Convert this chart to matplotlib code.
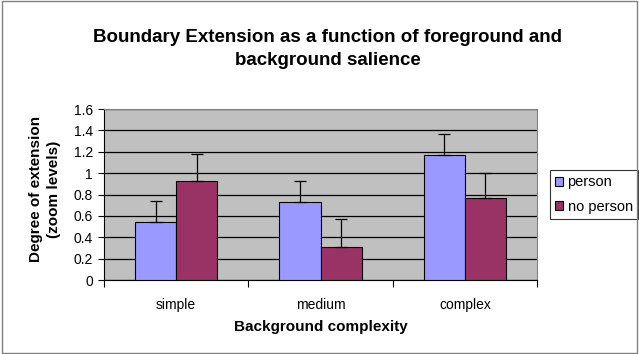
import matplotlib.pyplot as plt
import numpy as np
from matplotlib.patches import Rectangle

plt.rcParams['font.family'] = ['Liberation Sans', 'DejaVu Sans']

categories = ['simple', 'medium', 'complex']
person = [0.54, 0.73, 1.17]
no_person = [0.93, 0.31, 0.77]
person_err = [0.20, 0.20, 0.20]
no_person_err = [0.25, 0.26, 0.23]
yticks = [0, 0.2, 0.4, 0.6, 0.8, 1, 1.2, 1.4, 1.6]

fig = plt.figure(figsize=(6.39, 3.54), dpi=100)
# outer border of chart
fig.patches.append(Rectangle((0.003, 0.003), 0.994, 0.994, transform=fig.transFigure,
                             fill=False, edgecolor='#808080', linewidth=1))

ax = fig.add_axes([0.1628, 0.209, 0.6776, 0.483])
ax.set_facecolor('#C0C0C0')

x = np.arange(len(categories))
w = 0.285
ax.bar(x - w / 2, person, w, color='#9999FF', edgecolor='black', linewidth=0.8,
       label='person', zorder=3)
ax.bar(x + w / 2, no_person, w, color='#993366', edgecolor='black', linewidth=0.8,
       label='no person', zorder=3)
ax.errorbar(x - w / 2, person, yerr=[np.zeros(3), person_err], fmt='none',
            ecolor='black', elinewidth=0.9, capsize=4, capthick=0.9, zorder=4)
ax.errorbar(x + w / 2, no_person, yerr=[np.zeros(3), no_person_err], fmt='none',
            ecolor='black', elinewidth=0.9, capsize=4, capthick=0.9, zorder=4)

ax.set_xlim(-0.5, 2.5)
ax.set_ylim(0, 1.6)
ax.set_yticks(yticks)
ax.set_yticklabels([str(t) for t in yticks], fontsize=10)
ax.yaxis.grid(True, color='black', linewidth=0.9, zorder=1)
ax.set_axisbelow(True)

ax.set_xticks([-0.5, 0.5, 1.5, 2.5])
ax.set_xticklabels([])
ax.set_xticks(x, minor=True)
ax.set_xticklabels(categories, minor=True, fontsize=10)
ax.tick_params(axis='x', which='minor', length=0, pad=13)
ax.tick_params(axis='x', which='major', length=5, direction='out', color='black')
ax.tick_params(axis='y', length=4, direction='out', pad=4)

ax.spines['top'].set_color('#808080')
ax.spines['right'].set_color('#808080')
ax.spines['left'].set_color('black')
ax.spines['bottom'].set_color('black')

ax.set_xlabel('Background complexity', fontsize=11, fontweight='bold', labelpad=6)
ax.set_ylabel('Degree of extension\n(zoom levels)', fontsize=11, fontweight='bold',
              linespacing=1.3)
ax.yaxis.set_label_coords(-0.10, 0.53)

fig.text(0.513, 0.862, 'Boundary Extension as a function of foreground and\nbackground salience',
         ha='center', va='center', fontsize=13.5, fontweight='bold', linespacing=1.45)

leg = ax.legend(loc='center left', bbox_to_anchor=(1.03, 0.5), fontsize=10.5,
                frameon=True, fancybox=False, edgecolor='black', handlelength=0.55,
                handleheight=0.55, handletextpad=0.3, borderpad=0.35, labelspacing=0.7,
                borderaxespad=0)
leg.get_frame().set_linewidth(0.8)

plt.savefig('out.png', dpi=100)
